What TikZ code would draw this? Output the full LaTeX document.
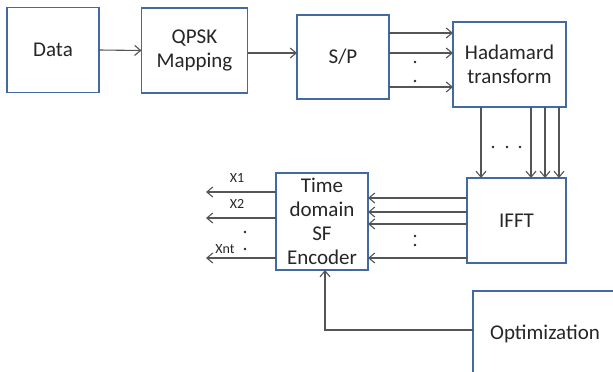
\documentclass[tikz,border=0pt]{standalone}
\usepackage{fontspec}
\setmainfont{Carlito}
\usetikzlibrary{shapes,arrows,arrows.meta,positioning}
\definecolor{boxblue}{RGB}{66,106,160}
\definecolor{linegrey}{RGB}{85,85,85}

\begin{document}
\begin{tikzpicture}[%
    x=1pt, y=-1pt,              % one unit is one pixel, y grows downwards
    >={Straight Barb[length=6pt,width=10pt]}, % Open arrow tips as in the figure
    every join/.style={norm},
    ]
% -------------------------------------------------
% Box and line styles
\tikzset{
  base/.style={draw=boxblue, line width=1.7pt, fill=white, align=center,
    outer sep=0pt, inner sep=2pt, text=black!85,
    font={\fontsize{21}{24}\selectfont}},
  blk/.style={base, rectangle},
  norm/.style={->, draw, linegrey, line width=1.1pt},
  lbl/.style={font={\fontsize{14}{16}\selectfont}, text=black!85, inner sep=0pt},
  dotmark/.style={fill=black!85}
}
\useasboundingbox (0,0) rectangle (613,372);
\clip (0,0) rectangle (613,372);
% -------------------------------------------------
% Start by placing the boxes
\node [blk, minimum width=92pt, minimum height=85pt] (data) at (53,50) {Data};
\node [blk, minimum width=106pt, minimum height=85pt] (qpsk) at (194.5,50.5) {QPSK\\Mapping};
\node [blk, minimum width=92pt, minimum height=84pt] (sp) at (343,57) {S/P};
\node [blk, minimum width=113pt, minimum height=85pt] (had) at (509.5,64.5) {Hadamard\\transform};
\node [blk, minimum width=99pt, minimum height=85pt] (ifft) at (516.5,220.5) {IFFT};
\node [blk, minimum width=92pt, minimum height=97pt, inner sep=0pt] (enc) at (322,221.5) {Time\\domain\\SF\\Encoder};
% The optimization box runs off the page
\node [blk, minimum width=144pt, minimum height=86pt] (opt) at (545,334) {Optimization};
% -------------------------------------------------
% Free ends of the encoder outputs
\coordinate (x1) at (206,192);
\coordinate (x2) at (206,218);
\coordinate (xn) at (206,258);
% -------------------------------------------------
% Straight connections along the top row
\draw [norm] (data.east) -- (qpsk.west);
\draw [norm] ([yshift=-2.5pt]qpsk.east) -- ([yshift=-2.5pt]qpsk.east -| sp.west);
\foreach \y in {33,53,87}
  \draw [norm] (sp.east |- 0,\y) -- (had.west |- 0,\y);
\fill [dotmark] (415,62) circle (1.4pt) (415,81) circle (1.4pt);
% -------------------------------------------------
% Hadamard outputs down into the IFFT
\foreach \x in {481,531,545,559}
  \draw [norm] (had.south -| \x,0) -- (ifft.north -| \x,0);
\fill [dotmark] (493,147) circle (1.4pt) (507,147) circle (1.4pt) (520,147) circle (1.4pt);
% -------------------------------------------------
% IFFT outputs into the encoder
\foreach \y in {198,212,224,258}
  \draw [norm] (ifft.west |- 0,\y) -- (enc.east |- 0,\y);
\fill [dotmark] (415,236) circle (1.4pt) (415,245) circle (1.4pt);
% -------------------------------------------------
% Encoder outputs
\draw [norm] (enc.west |- x1) -- (x1);
\draw [norm] (enc.west |- x2) -- (x2);
\draw [norm] (enc.west |- xn) -- (xn);
\node [lbl] (lx1) at (237,178) {X1};
\node [lbl] (lx2) at (237,204) {X2};
\node [lbl] (lxn) at (225,249) {Xnt};
\fill [dotmark] (245,232) circle (1.4pt) (245,249) circle (1.4pt);
% -------------------------------------------------
% Feedback from the optimization
\draw [norm] ([yshift=4pt]opt.west) -| ([xshift=3pt]enc.south);
\end{tikzpicture}
\end{document}
